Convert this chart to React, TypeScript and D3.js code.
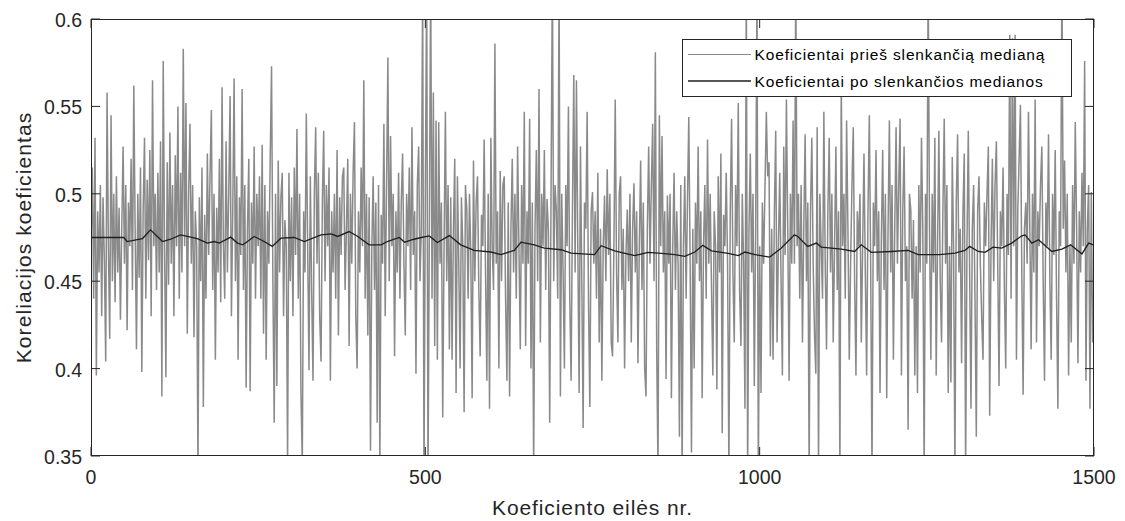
import React from "react";
import * as d3 from "d3";

// Raw correlation coefficients (thousandths), read every 2nd sample from the picture
const rawCoefficients: number[] = [
  470, 515, 440, 532, 396, 490, 455, 505, 430, 498, 462, 404, 558, 470, 417, 545, 450, 500, 438, 510, 455, 492, 428, 480, 527,
  460, 505, 422, 495, 470, 520, 445, 562, 480, 411, 500, 452, 515, 398, 490, 532, 440, 508, 462, 525, 430, 565, 470, 500, 445,
  512, 455, 530, 384, 576, 470, 395, 518, 448, 535, 460, 505, 430, 522, 470, 550, 440, 512, 455, 583, 470, 552, 420, 500, 540,
  460, 505, 418, 490, 470, 340, 498, 450, 515, 378, 488, 440, 523, 465, 510, 548, 445, 500, 405, 492, 455, 520, 438, 561, 470,
  440, 530, 455, 500, 556, 430, 490, 566, 450, 510, 405, 498, 465, 560, 445, 505, 389, 480, 520, 387, 495, 460, 527, 440, 500,
  470, 510, 440, 528, 420, 505, 405, 490, 460, 520, 573, 450, 369, 500, 390, 519, 455, 498, 512, 430, 485, 470, 345, 512, 450,
  498, 430, 515, 465, 537, 440, 500, 386, 345, 490, 455, 546, 470, 399, 510, 445, 393, 500, 538, 460, 512, 430, 404, 495, 536,
  450, 505, 470, 515, 393, 490, 455, 500, 440, 525, 419, 498, 465, 510, 515, 445, 480, 520, 413, 500, 460, 512, 541, 430, 400,
  490, 455, 515, 470, 565, 440, 500, 419, 498, 353, 470, 510, 445, 495, 369, 505, 345, 488, 460, 540, 430, 505, 578, 450, 533,
  470, 500, 407, 490, 455, 512, 440, 495, 523, 460, 419, 500, 470, 515, 445, 538, 465, 490, 397, 505, 527, 450, 480, 620, 335,
  500, 625, 335, 480, 625, 440, 558, 413, 542, 405, 541, 460, 495, 372, 470, 547, 450, 505, 411, 498, 405, 480, 520, 386, 510,
  460, 400, 498, 470, 375, 505, 491, 440, 500, 465, 383, 519, 450, 495, 510, 445, 407, 488, 470, 531, 455, 393, 500, 377, 532,
  470, 445, 586, 460, 490, 400, 513, 450, 505, 510, 440, 393, 495, 384, 480, 520, 455, 500, 440, 527, 470, 411, 505, 460, 547,
  413, 490, 460, 543, 400, 495, 340, 480, 525, 450, 560, 415, 500, 470, 525, 445, 497, 480, 369, 500, 625, 450, 505, 490, 440,
  625, 384, 500, 455, 400, 505, 470, 550, 440, 393, 490, 568, 455, 565, 470, 386, 527, 450, 366, 495, 480, 547, 440, 378, 490,
  501, 460, 490, 440, 512, 415, 480, 393, 470, 499, 450, 514, 465, 500, 415, 407, 470, 554, 455, 415, 500, 510, 445, 480, 400,
  465, 491, 450, 500, 415, 480, 506, 455, 490, 403, 470, 519, 445, 495, 400, 384, 480, 527, 460, 505, 540, 450, 581, 411, 340,
  545, 470, 533, 455, 490, 394, 499, 460, 500, 383, 470, 512, 445, 490, 460, 361, 505, 340, 470, 510, 440, 495, 544, 460, 352,
  480, 400, 495, 460, 527, 450, 490, 383, 470, 505, 440, 531, 460, 500, 445, 396, 490, 470, 388, 510, 455, 523, 363, 488, 470,
  512, 460, 340, 490, 543, 455, 415, 505, 470, 552, 445, 413, 500, 460, 377, 625, 335, 480, 523, 455, 500, 390, 480, 620, 335,
  470, 386, 495, 460, 505, 547, 510, 518, 407, 480, 405, 490, 536, 415, 470, 512, 450, 396, 527, 465, 554, 480, 393, 500, 460,
  542, 460, 625, 470, 500, 440, 505, 415, 480, 534, 450, 495, 340, 490, 532, 460, 420, 397, 538, 340, 500, 470, 440, 547, 460,
  411, 490, 532, 455, 500, 415, 470, 527, 445, 490, 340, 565, 470, 500, 440, 542, 480, 405, 460, 505, 538, 450, 396, 490, 470,
  500, 415, 470, 523, 455, 396, 490, 545, 460, 340, 495, 470, 525, 450, 490, 386, 475, 525, 445, 500, 383, 480, 542, 455, 505,
  405, 480, 538, 460, 505, 543, 396, 490, 527, 450, 470, 365, 500, 491, 440, 485, 396, 470, 386, 505, 455, 532, 480, 340, 500,
  460, 625, 480, 405, 500, 455, 532, 396, 470, 536, 450, 415, 490, 543, 460, 505, 386, 470, 392, 521, 470, 340, 495, 534, 455,
  480, 403, 490, 523, 340, 470, 536, 455, 377, 480, 505, 440, 361, 490, 510, 460, 430, 405, 495, 470, 500, 527, 373, 470, 520,
  450, 505, 530, 460, 390, 490, 470, 515, 445, 400, 500, 465, 591, 440, 589, 470, 591, 405, 490, 520, 551, 455, 385, 480, 495,
  460, 547, 480, 411, 500, 455, 554, 415, 490, 470, 505, 527, 450, 393, 495, 470, 534, 450, 405, 500, 465, 525, 440, 377, 490,
  470, 625, 480, 519, 455, 500, 396, 470, 415, 505, 460, 541, 480, 403, 490, 455, 512, 470, 576, 393, 480, 505, 377, 501, 415,
];
const rawStep = 2;

// Moving-median curve, read at its turning points
const medianIdx: number[] = [
  0, 49, 54, 77, 89, 107, 119, 134, 149, 159, 174, 184, 192, 209, 219, 227, 234, 244, 259, 271,
  284, 304, 319, 344, 359, 369, 386, 399, 416, 434, 443, 461, 469, 483, 494, 506, 518, 536, 553, 573,
  598, 613, 633, 643, 663, 678, 703, 718, 753, 763, 783, 813, 833, 853, 873, 888, 903, 915, 928, 953,
  968, 978, 993, 1015, 1032, 1052, 1057, 1072, 1085, 1092, 1122, 1142, 1152, 1167, 1197, 1222, 1237, 1269, 1292, 1307,
  1314, 1327, 1337, 1349, 1362, 1377, 1392, 1397, 1407, 1417, 1437, 1452, 1465, 1482, 1492, 1500,
];
const medianVal: number[] = [
  0.475, 0.475, 0.4727, 0.4744, 0.4794, 0.4727, 0.474, 0.4765, 0.4752, 0.4744, 0.4718, 0.4727, 0.4718, 0.4752, 0.4718, 0.4708, 0.4727, 0.4756, 0.4727, 0.4699,
  0.4746, 0.475, 0.4727, 0.4765, 0.4771, 0.4756, 0.4784, 0.4756, 0.4708, 0.4708, 0.4727, 0.475, 0.4723, 0.474, 0.475, 0.4759, 0.4721, 0.4761, 0.4708, 0.4676,
  0.4667, 0.4652, 0.4676, 0.4723, 0.4708, 0.4689, 0.468, 0.4661, 0.4652, 0.4703, 0.4674, 0.4646, 0.4665, 0.4659, 0.4652, 0.4642, 0.4667, 0.4705, 0.4674, 0.4659,
  0.4646, 0.4667, 0.4652, 0.4638, 0.4689, 0.4765, 0.4756, 0.4699, 0.4718, 0.4695, 0.4684, 0.467, 0.4708, 0.4665, 0.467, 0.4676, 0.4652, 0.4652, 0.4661, 0.4676,
  0.4699, 0.467, 0.4665, 0.4695, 0.4689, 0.4718, 0.476, 0.4765, 0.4718, 0.4737, 0.467, 0.4684, 0.4708, 0.4656, 0.4718, 0.4706,
];

const xTicks: number[] = [0, 500, 1000, 1500];
const xTickLabels: string[] = ["0", "500", "1000", "1500"];
const yTicks: number[] = [0.35, 0.4, 0.45, 0.5, 0.55, 0.6];
const yTickLabels: string[] = ["0.35", "0.4", "0.45", "0.5", "0.55", "0.6"];
const legendLabels: string[] = [
  "Koeficientai prieš slenkančią medianą",
  "Koeficientai po slenkančios medianos",
];
const xLabel = "Koeficiento eilės nr.";
const yLabel = "Koreliacijos koeficientas";

const W = 1125;
const H = 521;
const M = { left: 91, right: 1094, top: 19, bottom: 456 };
const FONT = "'Liberation Sans', Arial, Helvetica, sans-serif";
const AXIS_COLOR = "#262626";
const RAW_COLOR = "#8a8a8a";
const MED_COLOR = "#1e1e1e";

export default function App() {
  const x = d3.scaleLinear().domain([0, 1500]).range([M.left, M.right]);
  const y = d3.scaleLinear().domain([0.35, 0.6]).range([M.bottom, M.top]);

  const rawPts: [number, number][] = rawCoefficients.map((v, k) => [k * rawStep, v / 1000]);
  const medPts: [number, number][] = medianIdx.map((i, k) => [i, medianVal[k]]);
  const line = d3
    .line<[number, number]>()
    .x((d) => x(d[0]))
    .y((d) => y(d[1]));

  const tickLen = 9;
  const lg = { x0: 682.5, y0: 39.5, x1: 1071.5, y1: 96.5 };
  const rowY = [54.5, 81];

  return (
    <div style={{ position: "absolute", left: 0, top: 0 }}>
      <svg width={W} height={H} style={{ display: "block", background: "#fff" }}>
        <defs>
          <clipPath id="plotClip">
            <rect x={M.left} y={M.top} width={M.right - M.left} height={M.bottom - M.top} />
          </clipPath>
        </defs>
        <rect x={0} y={0} width={W} height={H} fill="#fff" />
        <g clipPath="url(#plotClip)">
          <path
            d={line(rawPts) || ""}
            fill="none"
            stroke={RAW_COLOR}
            strokeWidth={1.5}
            strokeLinejoin="miter"
            strokeMiterlimit={2}
          />
          <path d={line(medPts) || ""} fill="none" stroke={MED_COLOR} strokeWidth={1.3} />
        </g>

        {/* frame */}
        <rect
          x={M.left + 0.5}
          y={M.top + 0.5}
          width={M.right - M.left - 1}
          height={M.bottom - M.top - 1}
          fill="none"
          stroke={AXIS_COLOR}
          strokeWidth={1}
        />
        {/* ticks */}
        {yTicks.map((t) => (
          <g key={"yt" + t}>
            <line x1={M.left} x2={M.left + tickLen} y1={y(t)} y2={y(t)} stroke={AXIS_COLOR} />
            <line x1={M.right - tickLen} x2={M.right} y1={y(t)} y2={y(t)} stroke={AXIS_COLOR} />
          </g>
        ))}
        {xTicks.map((t) => (
          <g key={"xt" + t}>
            <line x1={x(t)} x2={x(t)} y1={M.bottom} y2={M.bottom - tickLen} stroke={AXIS_COLOR} />
            <line x1={x(t)} x2={x(t)} y1={M.top} y2={M.top + tickLen} stroke={AXIS_COLOR} />
          </g>
        ))}
        {/* tick labels */}
        {yTicks.map((t, i) => (
          <text
            key={"yl" + t}
            x={82}
            y={y(t) + 8}
            textAnchor="end"
            fontFamily={FONT}
            fontSize={19.5}
            fill={AXIS_COLOR}
          >
            {yTickLabels[i]}
          </text>
        ))}
        {xTicks.map((t, i) => (
          <text
            key={"xl" + t}
            x={x(t)}
            y={484}
            textAnchor="middle"
            fontFamily={FONT}
            fontSize={19.5}
            fill={AXIS_COLOR}
          >
            {xTickLabels[i]}
          </text>
        ))}
        {/* axis labels */}
        <text
          x={(M.left + M.right) / 2}
          y={515}
          textAnchor="middle"
          fontFamily={FONT}
          fontSize={21}
          letterSpacing={0.9}
          fill={AXIS_COLOR}
        >
          {xLabel}
        </text>
        <text
          transform={`translate(31, ${(M.top + M.bottom) / 2}) rotate(-90)`}
          textAnchor="middle"
          fontFamily={FONT}
          fontSize={21}
          letterSpacing={1.1}
          fill={AXIS_COLOR}
        >
          {yLabel}
        </text>

        {/* legend */}
        <rect
          x={lg.x0}
          y={lg.y0}
          width={lg.x1 - lg.x0}
          height={lg.y1 - lg.y0}
          fill="#fff"
          stroke={AXIS_COLOR}
          strokeWidth={1}
        />
        {legendLabels.map((lab, i) => (
          <g key={"lg" + i}>
            <line
              x1={688}
              x2={751}
              y1={rowY[i]}
              y2={rowY[i]}
              stroke={i === 0 ? RAW_COLOR : MED_COLOR}
              strokeWidth={i === 0 ? 1 : 1.5}
            />
            <text
              x={754.5}
              y={rowY[i] + 5.5}
              fontFamily={FONT}
              fontSize={15.5}
              letterSpacing={0.85}
              fill="#000"
            >
              {lab}
            </text>
          </g>
        ))}
      </svg>
    </div>
  );
}
